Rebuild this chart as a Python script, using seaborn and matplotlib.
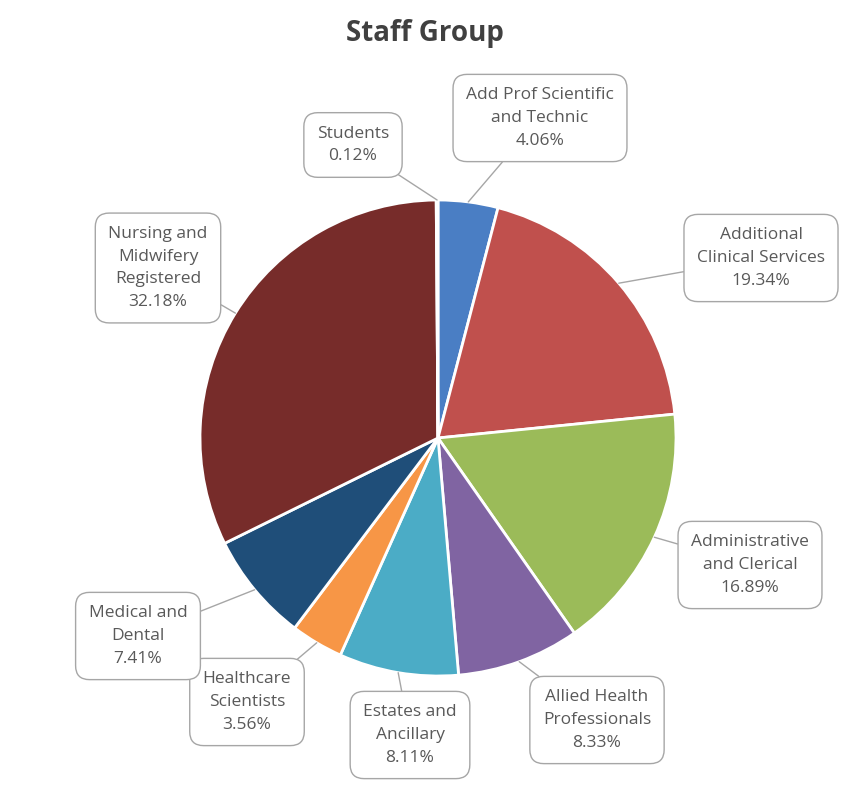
import numpy as np
import matplotlib
matplotlib.use("Agg")
import matplotlib.pyplot as plt
import seaborn as sns

categories = ["Add Prof Scientific\nand Technic", "Additional\nClinical Services",
              "Administrative\nand Clerical", "Allied Health\nProfessionals",
              "Estates and\nAncillary", "Healthcare\nScientists",
              "Medical and\nDental", "Nursing and\nMidwifery\nRegistered", "Students"]
values = [4.06, 19.34, 16.89, 8.33, 8.11, 3.56, 7.41, 32.18, 0.12]
colors = ["#4a7ec4", "#c0504d", "#9bbb59", "#8064a2", "#4bacc6",
          "#f79646", "#1f4e79", "#772c2a", "#5a7a2a"]
# label box centres in pixels (layout only)
label_px = [(540, 118), (761, 258), (750, 565), (597, 720), (410, 735),
            (247, 702), (138, 636), (158, 268), (353, 145)]

sns.set_theme(style="white")
plt.rcParams['font.family'] = ['Open Sans', 'DejaVu Sans']

W, H = 849, 789
fig = plt.figure(figsize=(W / 100, H / 100), dpi=100)
cx, cy, R = 438, 438, 238
ax = fig.add_axes([(cx - R) / W, (H - cy - R) / H, 2 * R / W, 2 * R / H])

wedges, _ = ax.pie(values, colors=colors, startangle=90, counterclock=False,
                   radius=1.0, wedgeprops=dict(edgecolor='white', linewidth=2))
ax.set_xlim(-1, 1)
ax.set_ylim(-1, 1)
ax.set_aspect('equal')
ax.axis('off')

for i, (w, cat, val, (px, py)) in enumerate(zip(wedges, categories, values, label_px)):
    mid = np.deg2rad((w.theta1 + w.theta2) / 2)
    ax_pt = (np.cos(mid), np.sin(mid))
    tx = (px - cx) / R
    ty = (cy - py) / R
    ax.annotate(f"{cat}\n{val:.2f}%", xy=ax_pt, xytext=(tx, ty),
                ha='center', va='center', fontsize=12.5, color='#595959',
                linespacing=1.55, annotation_clip=False, zorder=5 + i,
                bbox=dict(boxstyle='round,pad=0.75,rounding_size=0.8',
                          fc='white', ec='#a6a6a6', lw=1),
                arrowprops=dict(arrowstyle='-', color='#a6a6a6', lw=1,
                                shrinkA=0, shrinkB=0))

fig.text(425 / W, 1 - 33 / H, "Staff Group", ha='center', va='center',
         fontsize=20, fontweight='bold', color='#404040')

fig.savefig("out.png", dpi=100, facecolor='white')
